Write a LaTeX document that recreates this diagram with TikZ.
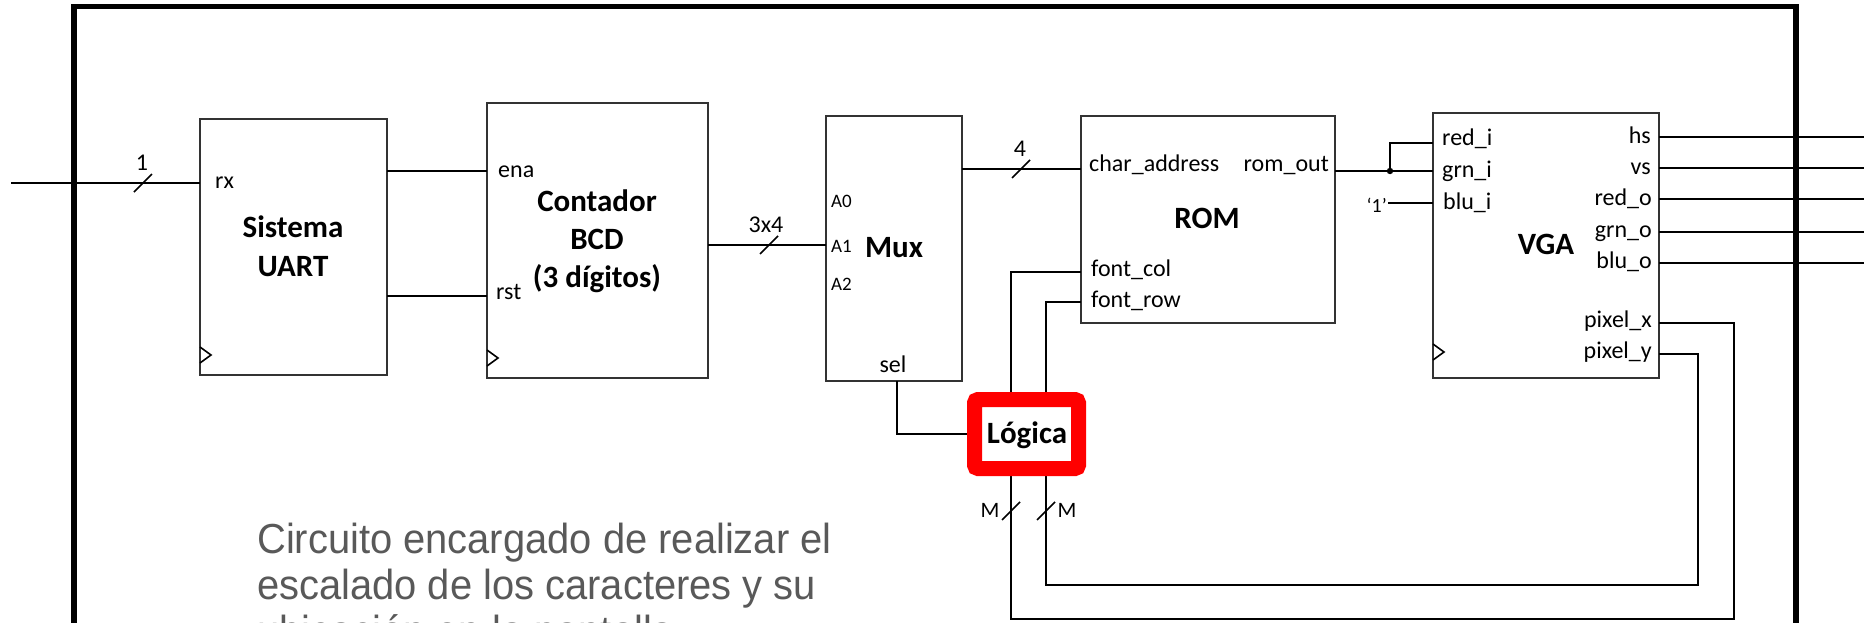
\documentclass[tikz,border=0pt]{standalone}
\usepackage{fontspec}
\setmainfont{Carlito}
\newfontfamily\descfont{Liberation Sans}
\usetikzlibrary{calc}
\definecolor{desccol}{HTML}{595959}
\definecolor{boxline}{HTML}{333333}
\definecolor{logred}{HTML}{FF0000}
\tikzset{
  box/.style={draw=boxline, line width=2, inner sep=0, outer sep=0, anchor=north west},
  wire/.style={line width=1.6},
  lbl/.style={font=\fontsize{24}{24}\selectfont, inner sep=0},
  sml/.style={font=\fontsize{19}{19}\selectfont, inner sep=0},
  qlbl/.style={font=\fontsize{20}{20}\selectfont, inner sep=0},
  mlbl/.style={font=\fontsize{22}{22}\selectfont, inner sep=0},
  ttl/.style={font=\fontsize{31}{31}\selectfont\bfseries, inner sep=0},
  desctext/.style={font=\fontsize{42}{46}\selectfont\descfont, text=desccol, inner sep=0, anchor=base west},
  logicbox/.style={draw=logred, line width=15, fill=white, rounded corners=3.5, inner sep=0, outer sep=7.5, minimum width=104, minimum height=69},
  busmark/.pic={\draw[line width=1.6] (-9,9) -- (9,-9);},
  clk/.pic={\draw[line width=1.6] (0,-8) -- (11,0) -- (0,8);},
}
\begin{document}
\begin{tikzpicture}[x=1pt,y=-1pt]
\useasboundingbox (0,0) rectangle (1864,622);
% outer frame
\draw[line width=5.5] (74,700) -- (74,6.5) -- (1796,6.5) -- (1796,700);

% blocks
\node[box, minimum width=187, minimum height=256] (uart) at (200,119) {};
\node[box, minimum width=221, minimum height=275] (cnt) at (487,103) {};
\node[box, minimum width=136, minimum height=265] (mux) at (826,116) {};
\node[box, minimum width=254, minimum height=207] (rom) at (1081,116) {};
\node[box, minimum width=226, minimum height=265] (vga) at (1433,113) {};

% clock marks
\pic at (200,355) {clk};
\pic at (487,358) {clk};
\pic at (1433,352) {clk};

% titles
\node[ttl, anchor=base] (t-uart1) at (293,237) {Sistema};
\node[ttl, anchor=base] (t-uart2) at (293,276) {UART};
\node[ttl, anchor=base] (t-cnt1) at (597,211) {Contador};
\node[ttl, anchor=base] (t-cnt2) at (597,249) {BCD};
\node[ttl, anchor=base] (t-cnt3) at (597,287) {(3 dígitos)};
\node[ttl, anchor=base] (t-mux) at (894,257) {Mux};
\node[ttl, anchor=base] (t-rom) at (1207,228) {ROM};
\node[ttl, anchor=base] (t-vga) at (1546,254) {VGA};

% port labels
\node[lbl, anchor=base west] (l-rx) at (215,188) {rx};
\node[lbl, anchor=base west] (l-ena) at (498,177) {ena};
\node[lbl, anchor=base west] (l-rst) at (496,299) {rst};
\node[sml, anchor=base west] (l-a0) at (831,207) {A0};
\node[sml, anchor=base west] (l-a1) at (831,252) {A1};
\node[sml, anchor=base west] (l-a2) at (831,290) {A2};
\node[lbl, anchor=base] (l-sel) at (893,372) {sel};
\node[lbl, anchor=base west] (l-ca) at (1089,171) {char\_address};
\node[lbl, anchor=base east] (l-ro) at (1329,171) {rom\_out};
\node[lbl, anchor=base west] (l-fc) at (1091,276) {font\_col};
\node[lbl, anchor=base west] (l-fr) at (1091,307) {font\_row};
\node[lbl, anchor=base west] (l-ri) at (1442,145) {red\_i};
\node[lbl, anchor=base west] (l-gi) at (1442,177) {grn\_i};
\node[lbl, anchor=base west] (l-bi) at (1443,209) {blu\_i};
\node[lbl, anchor=base east] (l-hs) at (1651,143) {hs};
\node[lbl, anchor=base east] (l-vs) at (1651,174) {vs};
\node[lbl, anchor=base east] (l-ro2) at (1652,205) {red\_o};
\node[lbl, anchor=base east] (l-go) at (1652,237) {grn\_o};
\node[lbl, anchor=base east] (l-bo) at (1652,268) {blu\_o};
\node[lbl, anchor=base east] (l-px) at (1652,327) {pixel\_x};
\node[lbl, anchor=base east] (l-py) at (1652,358) {pixel\_y};

% port coordinates
\coordinate (in) at (11,183);
\coordinate (cena) at (487,171);
\coordinate (crst) at (487,296);
\coordinate (ma1) at (826,245);
\coordinate (rca) at (1081,169);
\coordinate (vred) at (1433,143);
\coordinate (vgrn) at (1433,171);
\coordinate (vblu) at (1433,203);
\coordinate (jn) at (1390,171);
\coordinate (one) at (1388,203);
\coordinate (o1) at (1864,137);
\coordinate (o2) at (1864,168);
\coordinate (o3) at (1864,199);
\coordinate (o4) at (1864,232);
\coordinate (o5) at (1864,263);
\coordinate (px) at (1659,323);
\coordinate (py) at (1659,354);
\coordinate (fcol) at (1081,272);
\coordinate (frow) at (1081,302);
\coordinate (msel) at (897,381);

% wires
\draw[wire] (in) -- (in -| uart.west);
\pic at (143,183) {busmark};
\node[lbl, anchor=base] (l-1) at (142,170) {1};
\draw[wire] (cena -| uart.east) -- (cena);
\draw[wire] (crst -| uart.east) -- (crst);
\draw[wire] (ma1 -| cnt.east) -- (ma1);
\pic at (769,245) {busmark};
\node[lbl, anchor=base] (l-3x4) at (766,232) {3x4};
\draw[wire] (rca -| mux.east) -- (rca);
\pic at (1021,169) {busmark};
\node[lbl, anchor=base] (l-4) at (1020,156) {4};
\draw[wire] (vgrn -| rom.east) -- (vgrn);
\draw[wire] (jn) |- (vred);
\fill (jn) circle (3.2);
\draw[wire] (one) -- (vblu);
\node[qlbl, anchor=base east] (l-one) at (1387,212) {‘1’};
\foreach \o in {o1,o2,o3,o4,o5} \draw[wire] (vga.east |- \o) -- (\o);
\draw[wire] (px) -| (1734,619) -| (1011,272) -- (fcol);
\draw[wire] (py) -| (1698,585) -| (1046,302) -- (frow);

% logic block
\node[logicbox] (logic) at (1026.5,434) {};
\node[ttl, anchor=base] (t-logic) at (1027,443) {Lógica};
\draw[wire] (msel) |- (logic.west);
\pic at (1011,511) {busmark};
\pic at (1046,511) {busmark};
\node[mlbl, anchor=base] (l-m1) at (990,517) {M};
\node[mlbl, anchor=base] (l-m2) at (1067,517) {M};

% description
\node[desctext] (d1) at (257,553) {\scalebox{0.95}[1]{Circuito encargado de realizar el}};
\node[desctext] (d2) at (257,599) {\scalebox{0.95}[1]{escalado de los caracteres y su}};
\node[desctext] (d3) at (257,645) {\scalebox{0.95}[1]{ubicación en la pantalla}};
\end{tikzpicture}
\end{document}
